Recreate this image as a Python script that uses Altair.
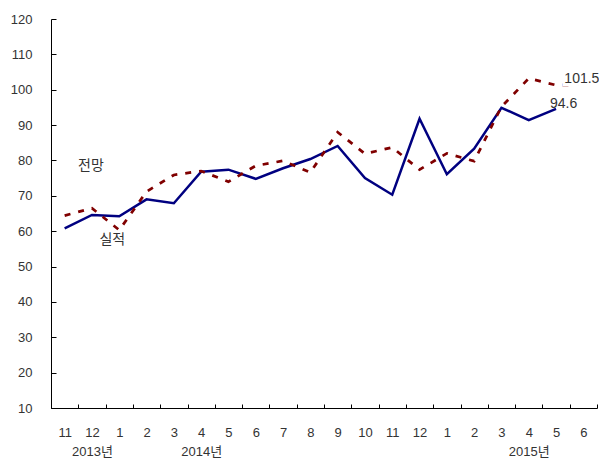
import altair as alt
import pandas as pd

# ---- data ----
months = ["11", "12", "1", "2", "3", "4", "5", "6", "7", "8", "9", "10",
          "11", "12", "1", "2", "3", "4", "5", "6"]
years = [2013, 2013, 2014, 2014, 2014, 2014, 2014, 2014, 2014, 2014, 2014, 2014,
         2014, 2014, 2015, 2015, 2015, 2015, 2015, 2015]
actual = [60.8, 64.6, 64.2, 69.0, 67.9, 76.8, 77.4, 74.8, 77.8, 80.4, 84.1, 75.0,
          70.3, 91.8, 76.1, 83.3, 94.9, 91.4, 94.6, None]          # 실적
forecast = [64.4, 66.5, 60.3, 71.2, 75.9, 77.0, 74.0, 78.5, 79.9, 76.6, 88.0, 81.9,
            83.7, 77.4, 82.0, 79.8, 95.2, 103.2, 101.3, 101.5]    # 전망
year_marks = {"2013-12": "2013년", "2014-4": "2014년", "2015-4": "2015년"}
y_ticks = list(range(10, 121, 10))
series_names = ["실적", "전망"]

# ---- tables ----
keys = [f"{y}-{m}" for y, m in zip(years, months)]
df_a = pd.DataFrame({"key": keys, "value": actual}).dropna()
df_f = pd.DataFrame({"key": keys, "value": forecast}).dropna()

last_a = df_a.iloc[[-1]].assign(text=lambda d: d["value"].map(lambda v: f"{v:.1f}"))
last_f = df_f.iloc[[-1]].assign(text=lambda d: d["value"].map(lambda v: f"{v:.1f}"))
name_a = df_a.iloc[[2]].assign(text=series_names[0])
name_f = df_f.iloc[[1]].assign(text=series_names[1])

label_expr = "split(datum.value, '-')[1]"
for k, lab in year_marks.items():
    label_expr = f"datum.value == '{k}' ? ['{k.split('-')[1]}', '{lab}'] : " + label_expr

FONT = "Liberation Sans, Noto Sans CJK KR"
TXT = "#333333"

x_enc = alt.X(
    "key:O",
    bandPosition=0.5,
    scale=alt.Scale(domain=keys, type="band", paddingInner=0, paddingOuter=0),
    axis=alt.Axis(
        title=None, labelExpr=label_expr, labelAngle=0, tickBand="extent",
        tickSize=alt.ExprRef(expr="-4"), tickColor="black", domainColor="black",
        labelPadding=22, labelFont=FONT, labelFontSize=13, labelColor=TXT,
        labelLineHeight=19, labelBaseline="top", grid=False,
    ),
)
y_enc = alt.Y(
    "value:Q",
    scale=alt.Scale(domain=[10, 120], nice=False, zero=False),
    axis=alt.Axis(
        title=None, values=y_ticks, tickSize=alt.ExprRef(expr="-5"),
        tickColor="black", domainColor="black", labelPadding=24,
        labelFont=FONT, labelFontSize=13, labelColor=TXT, grid=False,
    ),
)

line_a = alt.Chart(df_a).mark_line(color="#000080", strokeWidth=2.5).encode(x=x_enc, y=y_enc)
line_f = alt.Chart(df_f).mark_line(
    color="#800000", strokeWidth=2.75, strokeDash=[6, 8]
).encode(x=x_enc, y=y_enc)

txt_kw = dict(font=FONT, fontSize=14, color=TXT)

lab_f_halo = alt.Chart(last_f).mark_text(
    align="left", baseline="middle", dx=-19, dy=-5, font=FONT, fontSize=14,
    fill="white", stroke="white", strokeWidth=6
).encode(x=x_enc, y=y_enc, text="text:N")
lab_f = alt.Chart(last_f).mark_text(
    align="left", baseline="middle", dx=-19, dy=-5, **txt_kw
).encode(x=x_enc, y=y_enc, text="text:N")
lab_a = alt.Chart(last_a).mark_text(
    align="left", baseline="middle", dx=-6, dy=-5, **txt_kw
).encode(x=x_enc, y=y_enc, text="text:N")

nm_f = alt.Chart(name_f).mark_text(
    align="center", baseline="middle", dx=-1, dy=-42, **txt_kw
).encode(x=x_enc, y=y_enc, text="text:N")
nm_a = alt.Chart(name_a).mark_text(
    align="center", baseline="middle", dx=-7, dy=24, **txt_kw
).encode(x=x_enc, y=y_enc, text="text:N")

chart = alt.layer(line_a, line_f, lab_f_halo, lab_f, lab_a, nm_f, nm_a).properties(
    width=546, height=389,
    autosize=alt.AutoSizeParams(type="none"),
    padding={"left": 43, "top": 11, "right": 2, "bottom": 51},
).configure_view(stroke=None)

chart.save("out.html", embed_options={"renderer": "svg", "actions": False})
